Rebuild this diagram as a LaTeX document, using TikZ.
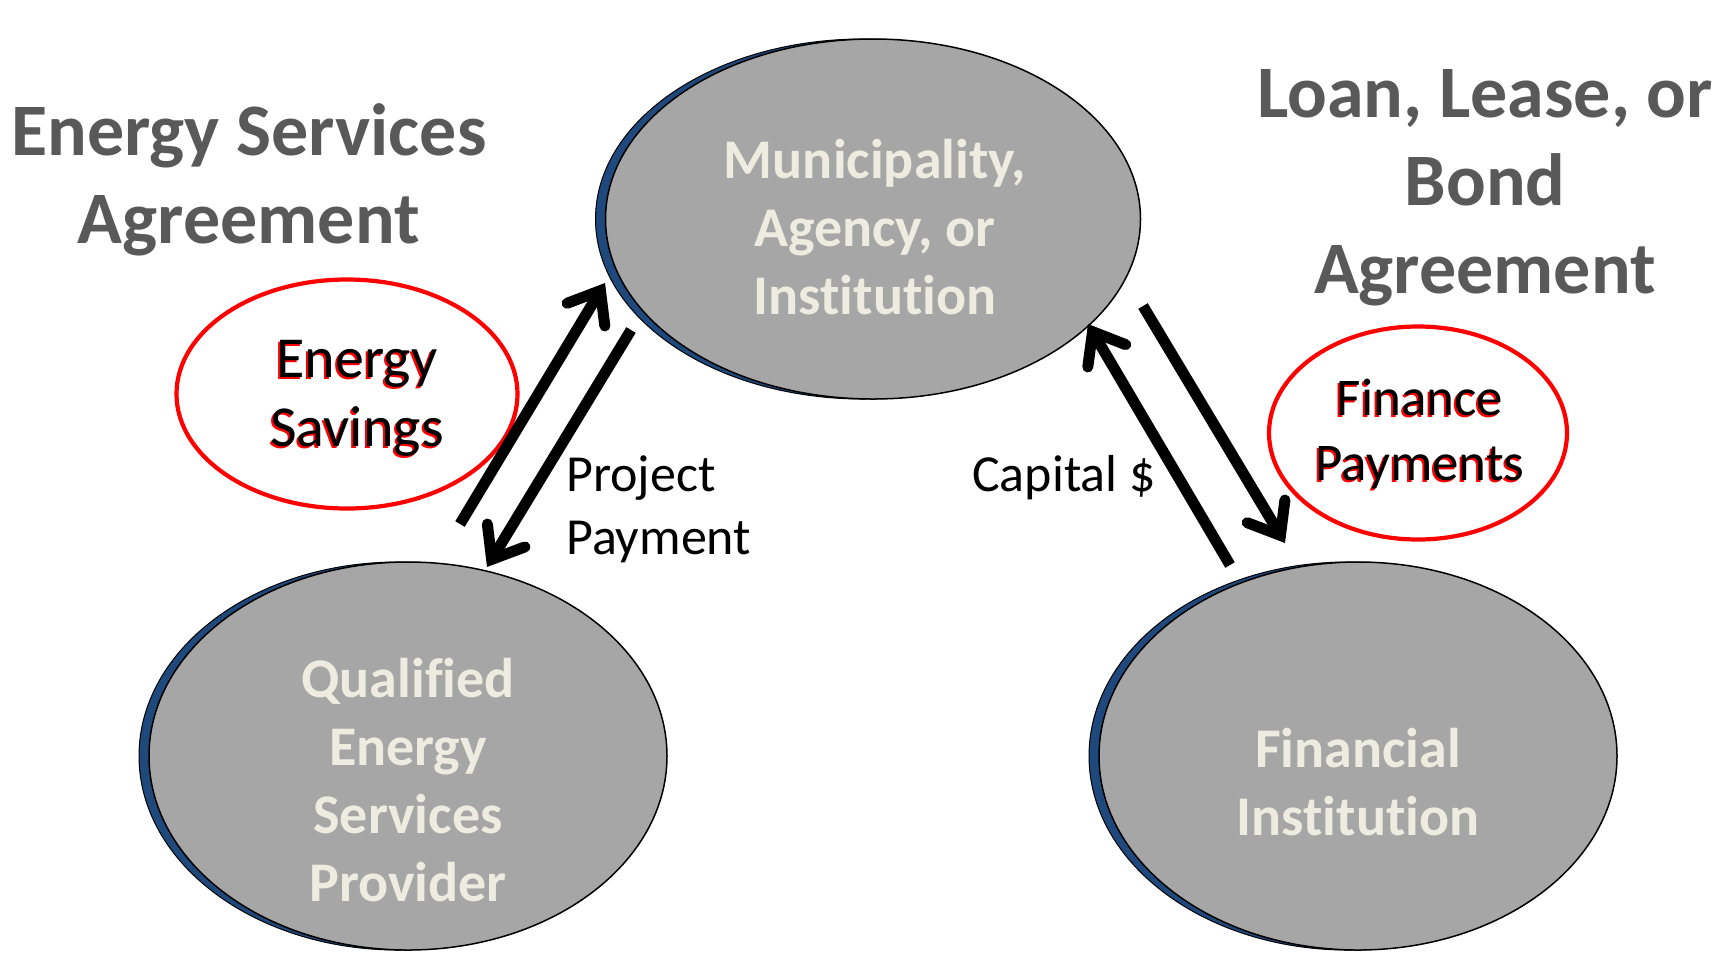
\documentclass[tikz,border=0pt]{standalone}
\usepackage{fontspec}
\setmainfont[Ligatures=NoCommon]{Carlito}
\usetikzlibrary{shapes.geometric,arrows.meta}
\definecolor{ellfill}{HTML}{A6A6A6}
\definecolor{elltext}{HTML}{EEECE1}
\definecolor{shadowblue}{HTML}{1F497D}
\definecolor{titlegray}{HTML}{595959}
\definecolor{ovalred}{HTML}{FF0000}
\begin{document}
\begin{tikzpicture}[x=1pt,y=-1pt,
  shadowell/.style={ellipse, fill=shadowblue, draw=black, line width=1pt, inner sep=0pt},
  mainell/.style={ellipse, fill=ellfill, draw=black, line width=1.5pt, inner sep=0pt},
  elltxt/.style={text=elltext, align=center, inner sep=0pt, font=\fontsize{56}{68}\selectfont\bfseries},
  titletxt/.style={text=titlegray, align=center, inner sep=0pt, font=\fontsize{74}{88}\selectfont\bfseries},
  redoval/.style={ellipse, draw=ovalred, line width=4.2pt, inner sep=0pt},
  ovaltxt/.style={align=center, inner sep=0pt},
  lbltxt/.style={align=left, inner sep=0pt, anchor=west, font=\fontsize{52}{63}\selectfont},
  flow/.style={line width=11pt, -{Straight Barb[length=28pt, width=44pt, line cap=round, line join=miter]}}
]
\useasboundingbox (0,0) rectangle (1736,954);
\fill[white] (0,0) rectangle (1736,954);

% titles
\node[titletxt] (esa) at (249,180) {Energy Services\\Agreement};
\node[titletxt] (llb) at (1485,188) {Loan, Lease, or\\Bond\\Agreement};

% main ellipses with blue shadow
\node[shadowell, minimum width=535pt, minimum height=360pt] (muniS) at (863,219) {};
\node[mainell, minimum width=535pt, minimum height=360pt] (muni) at (873,219) {};
\node[elltxt] (munitxt) at (875,227) {Municipality,\\Agency, or\\Institution};

\node[shadowell, minimum width=518pt, minimum height=388pt] (qespS) at (398,756) {};
\node[mainell, minimum width=518pt, minimum height=388pt] (qesp) at (408,756) {};
\node[elltxt] (qesptxt) at (408,780) {Qualified\\Energy\\Services\\Provider};

\node[shadowell, minimum width=518pt, minimum height=388pt] (finS) at (1348,756) {};
\node[mainell, minimum width=518pt, minimum height=388pt] (fin) at (1358,756) {};
\node[elltxt] (fintxt) at (1358,782) {Financial\\Institution};

% red ovals
\node[redoval, minimum width=341pt, minimum height=229pt] (es) at (347,394) {};
\node[ovaltxt, text=ovalred, font=\fontsize{58}{69}\selectfont] (estxtS) at (355,400) {Energy\\Savings};
\node[ovaltxt, text=black, font=\fontsize{58}{69}\selectfont] (estxt) at (357,398) {Energy\\Savings};

\node[redoval, minimum width=298pt, minimum height=213pt] (fp) at (1418,433) {};
\node[ovaltxt, text=ovalred, font=\fontsize{53}{65}\selectfont] (fptxtS) at (1418,436) {Finance\\Payments};
\node[ovaltxt, text=black, font=\fontsize{53}{65}\selectfont] (fptxt) at (1420,434) {Finance\\Payments};

% labels
\node[lbltxt] (pp) at (566,509) {Project\\Payment};
\node[lbltxt] (cap) at (972,478) {Capital \$};

% arrow end points
\coordinate (a1s) at (460,524);
\coordinate (a1e) at (605,283);
\coordinate (a2s) at (631,330);
\coordinate (a2e) at (487,567);
\coordinate (a3s) at (1230,565);
\coordinate (a3e) at (1088,324);
\coordinate (a4s) at (1143,306);
\coordinate (a4e) at (1285,543);

\draw[flow] (a1s) -- (a1e);
\draw[flow] (a2s) -- (a2e);
\draw[flow] (a3s) -- (a3e);
\draw[flow] (a4s) -- (a4e);
\end{tikzpicture}
\end{document}
